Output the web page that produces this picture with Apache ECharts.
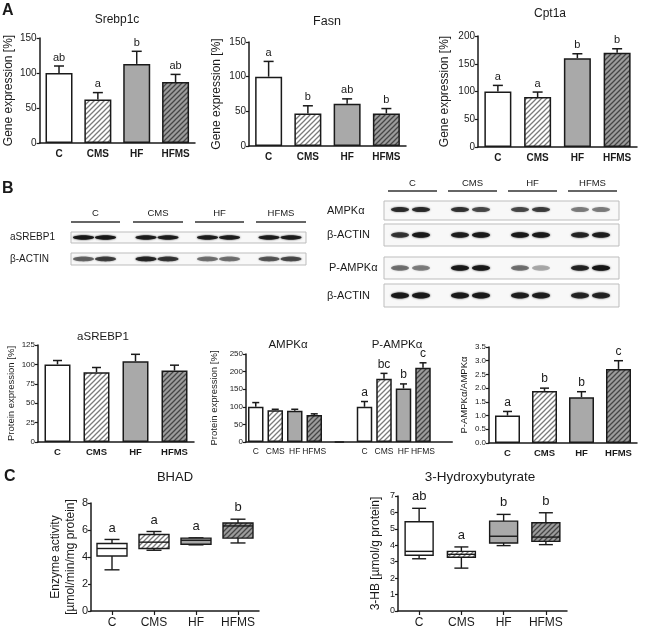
<!DOCTYPE html>
<html><head><meta charset="utf-8">
<script src="https://cdn.jsdelivr.net/npm/echarts@6/dist/echarts.min.js"></script>
<style>html,body{margin:0;padding:0;background:#fff}#c{width:646px;height:629px}</style>
</head><body><div id="c"></div>
<script>
// ---------- DATA ----------
const groups = ['C', 'CMS', 'HF', 'HFMS'];
// Panel A: gene expression [%] (mean, SEM, significance letters)
const srebp1cMean = [100, 62, 113, 87];
const srebp1cSem  = [10, 10, 18, 11];
const srebp1cSig  = ['ab', 'a', 'b', 'ab'];
const fasnMean = [100, 47, 61, 47];
const fasnSem  = [22, 11, 7, 7];
const fasnSig  = ['a', 'b', 'ab', 'b'];
const cpt1aMean = [100, 90, 160, 170];
const cpt1aSem  = [11, 9, 8, 7];
const cpt1aSig  = ['a', 'a', 'b', 'b'];
// Panel B: protein expression
const asrebp1Mean = [100, 90, 104, 92];
const asrebp1Sem  = [5, 6, 9, 7];
const ampkMean = [100, 90, 89, 77];
const ampkSem  = [12, 3, 4, 3];
const pampkMean = [100, 180, 152, 211];
const pampkSem  = [15, 15, 13, 14];
const pampkSig  = ['a', 'bc', 'b', 'c'];
const ratioMean = [1.0, 1.9, 1.67, 2.7];
const ratioSem  = [0.15, 0.1, 0.2, 0.3];
const ratioSig  = ['a', 'b', 'b', 'c'];
// Panel C: box plots [min, Q1, median, Q3, max]
const bhadBox = [[3.05, 4.07, 4.63, 5.0, 5.3], [4.5, 4.63, 5.1, 5.67, 5.89], [4.9, 4.94, 5.24, 5.4, 5.42], [5.04, 5.4, 6.3, 6.52, 6.8]];
const bhadSig = ['a', 'a', 'a', 'b'];
const hbBox = [[3.18, 3.39, 3.63, 5.43, 6.25], [2.61, 3.27, 3.45, 3.63, 3.9], [3.98, 4.14, 4.55, 5.47, 5.88], [4.04, 4.24, 4.5, 5.37, 5.98]];
const hbSig = ['ab', 'a', 'b', 'b'];
// Western blot band darkness per group: [lane1, lane2]
const aSrebp1Bands = [[0.95, 0.95], [0.9, 0.9], [0.9, 0.9], [0.9, 0.9]];
const actinABands  = [[0.55, 0.7], [0.85, 0.75], [0.5, 0.5], [0.6, 0.65]];
const ampkBands    = [[0.8, 0.8], [0.75, 0.65], [0.65, 0.7], [0.45, 0.45]];
const actinBBands  = [[0.75, 0.95], [0.9, 0.95], [0.95, 0.95], [0.85, 0.9]];
const pampkBands   = [[0.5, 0.45], [0.95, 0.95], [0.5, 0.3], [0.85, 1.0]];
const actinCBands  = [[0.95, 0.95], [0.95, 0.95], [0.9, 0.9], [0.85, 0.85]];

// ---------- STYLE ----------
const FONT = '"Liberation Sans", Arial, sans-serif';
const INK = '#1a1a1a';
function hatch(bg, fg) {
  const s = 5, c = document.createElement('canvas');
  c.width = c.height = s;
  const g = c.getContext('2d');
  g.fillStyle = bg; g.fillRect(0, 0, s, s);
  g.strokeStyle = fg; g.lineWidth = 1.3;
  g.beginPath();
  g.moveTo(-1, s + 1); g.lineTo(s + 1, -1);
  g.moveTo(-1, 1); g.lineTo(1, -1);
  g.moveTo(s - 1, s + 1); g.lineTo(s + 1, s - 1);
  g.stroke();
  return { image: c, repeat: 'repeat' };
}
const fills = ['#ffffff', hatch('#ffffff', '#7a7a7a'), '#a9a9a9', hatch('#9c9c9c', '#454545')];

const grid = [], xAxis = [], yAxis = [], series = [], graphic = [];

function addGrid(g) { grid.push(g); return grid.length - 1; }
function addY(gi, min, max, interval, name, gap, o) {
  yAxis.push({
    gridIndex: gi, type: 'value', min, max, interval, show: o.show !== false,
    name, nameLocation: 'middle', nameGap: gap, nameRotate: 90,
    nameTextStyle: { fontSize: o.nameSize, fontFamily: FONT, color: INK, lineHeight: o.nameLH || o.nameSize + 3 },
    axisLine: { show: true, lineStyle: { color: INK, width: 1.5 } },
    axisTick: { show: true, length: 3, lineStyle: { color: INK, width: 1.2 } },
    axisLabel: { fontSize: o.tickSize, color: INK, fontFamily: FONT, margin: 3, formatter: o.fmt },
    splitLine: { show: false }
  });
  return yAxis.length - 1;
}
function addX(gi, data, o) {
  xAxis.push({
    gridIndex: gi, type: 'category', data,
    axisLine: { lineStyle: { color: INK, width: 1.5 } },
    axisTick: { show: !!o.ticks, alignWithLabel: true, length: 4, lineStyle: { color: INK, width: 1.2 } },
    axisLabel: { interval: 0, fontSize: o.size, fontWeight: o.bold ? 'bold' : 'normal', color: INK, fontFamily: FONT, margin: o.margin || 5 }
  });
  return xAxis.length - 1;
}
function addBars(xi, yi, means, sems, sig, o) {
  const off = o.offset || 0;
  const data = [];
  for (let k = 0; k < off; k++) data.push('-');
  means.forEach((v, i) => data.push({ value: v, itemStyle: { color: fills[i] } }));
  series.push({
    type: 'bar', xAxisIndex: xi, yAxisIndex: yi, barWidth: o.barWidth, silent: true,
    itemStyle: { borderColor: INK, borderWidth: 1.5 }, data
  });
  series.push({
    type: 'custom', xAxisIndex: xi, yAxisIndex: yi, clip: false, silent: true, z: 5,
    data: means.map((m, i) => [i + off, m, m + sems[i]]),
    renderItem(params, api) {
      const x = api.value(0);
      const p0 = api.coord([x, api.value(1)]);
      const p1 = api.coord([x, api.value(2)]);
      const cw = o.cap;
      const ch = [
        { type: 'line', shape: { x1: p0[0], y1: p0[1], x2: p1[0], y2: p1[1] }, style: { stroke: INK, lineWidth: 1.5 } },
        { type: 'line', shape: { x1: p1[0] - cw / 2, y1: p1[1], x2: p1[0] + cw / 2, y2: p1[1] }, style: { stroke: INK, lineWidth: 1.5 } }
      ];
      if (sig) ch.push({ type: 'text', style: { text: sig[params.dataIndex], x: p1[0], y: p1[1] - 3, align: 'center', verticalAlign: 'bottom', fontSize: o.sigSize, fontFamily: FONT, fill: INK } });
      return { type: 'group', children: ch };
    }
  });
}
function addBoxes(xi, yi, boxes, sig, o) {
  series.push({
    type: 'custom', xAxisIndex: xi, yAxisIndex: yi, clip: false, silent: true,
    data: boxes.map((b, i) => [i].concat(b)),
    renderItem(params, api) {
      const i = api.value(0);
      const y = k => api.coord([i, api.value(k)])[1];
      const x = api.coord([i, 0])[0];
      const ymin = y(1), yq1 = y(2), ymed = y(3), yq3 = y(4), ymax = y(5);
      const bw = o.boxWidth, cw = bw / 2;
      const st = { stroke: INK, lineWidth: 1.4 };
      return { type: 'group', children: [
        { type: 'line', shape: { x1: x, y1: yq3, x2: x, y2: ymax }, style: st },
        { type: 'line', shape: { x1: x, y1: yq1, x2: x, y2: ymin }, style: st },
        { type: 'line', shape: { x1: x - cw / 2, y1: ymax, x2: x + cw / 2, y2: ymax }, style: st },
        { type: 'line', shape: { x1: x - cw / 2, y1: ymin, x2: x + cw / 2, y2: ymin }, style: st },
        { type: 'rect', shape: { x: x - bw / 2, y: yq3, width: bw, height: yq1 - yq3 }, style: { fill: fills[params.dataIndex], stroke: INK, lineWidth: 1.4 } },
        { type: 'line', shape: { x1: x - bw / 2, y1: ymed, x2: x + bw / 2, y2: ymed }, style: st },
        { type: 'text', style: { text: sig[params.dataIndex], x: x, y: ymax - 5, align: 'center', verticalAlign: 'bottom', fontSize: o.sigSize, fontFamily: FONT, fill: INK } }
      ] };
    }
  });
}
function text(x, y, s, size, o) {
  o = o || {};
  graphic.push({ type: 'text', x, y, silent: true, style: { text: s, fontSize: size, fontFamily: FONT, fontWeight: o.bold ? 'bold' : 'normal', fill: INK, align: o.align || 'center', verticalAlign: o.va || 'middle' } });
}

// ---------- PANEL A ----------
text(2, 3, 'A', 16, { bold: true, align: 'left', va: 'top' });
const aOpt = { nameSize: 12, tickSize: 10 };
const aX = { size: 10, bold: true, margin: 6 };
const aB = { barWidth: 27, cap: 10, sigSize: 11 };
let gi = addGrid({ left: 38, top: 38, width: 157, height: 105 });
addBars(addX(gi, groups, aX), addY(gi, 0, 150, 50, 'Gene expression [%]', 23, aOpt), srebp1cMean, srebp1cSem, srebp1cSig, aB);
text(117, 20, 'Srebp1c', 12);
gi = addGrid({ left: 249, top: 42, width: 157, height: 104 });
addBars(addX(gi, groups, aX), addY(gi, 0, 150, 50, 'Gene expression [%]', 25, aOpt), fasnMean, fasnSem, fasnSig, aB);
text(327, 22, 'Fasn', 12.5);
gi = addGrid({ left: 478, top: 36, width: 159, height: 111 });
addBars(addX(gi, groups, aX), addY(gi, 0, 200, 50, 'Gene expression [%]', 26, aOpt), cpt1aMean, cpt1aSem, cpt1aSig, aB);
text(550, 14, 'Cpt1a', 12);

// ---------- PANEL B: blots ----------
text(2, 181, 'B', 16, { bold: true, align: 'left', va: 'top' });
function blot(cfg) {
  cfg.groupX.forEach(([a, b], i) => {
    text((a + b) / 2, cfg.headerY, groups[i], 9.5);
    graphic.push({ type: 'line', silent: true, shape: { x1: a, y1: cfg.lineY, x2: b, y2: cfg.lineY }, style: { stroke: '#333', lineWidth: 1.4 } });
  });
  cfg.rows.forEach(r => {
    graphic.push({ type: 'rect', silent: true, shape: { x: cfg.boxX0, y: r.y0, width: cfg.boxX1 - cfg.boxX0, height: r.y1 - r.y0 }, style: { fill: '#f8f8f8', stroke: '#bdbdbd', lineWidth: 1 } });
    text(r.lx, (r.y0 + r.y1) / 2, r.label, r.ls, { align: 'left' });
    const cy = (r.y0 + r.y1) / 2 + (r.dy || 0);
    r.bands.forEach((pair, g) => {
      const [a, b] = cfg.groupX[g];
      const c = (a + b) / 2 + cfg.shift;
      pair.forEach((d, li) => {
        const cx = c + (li ? cfg.laneOff : -cfg.laneOff);
        const col = `rgba(22,22,22,${d})`;
        graphic.push({ type: 'ellipse', silent: true, shape: { cx, cy, rx: cfg.bandW / 2, ry: r.ry }, style: { fill: col, shadowBlur: 2, shadowColor: col } });
      });
    });
  });
}
blot({
  groupX: [[71, 120], [133, 183], [195, 244], [256, 306]], headerY: 213, lineY: 222, boxX0: 71, boxX1: 306,
  shift: -1, laneOff: 11, bandW: 21,
  rows: [
    { label: 'aSREBP1', lx: 10, ls: 10, y0: 232, y1: 243, ry: 2.2, bands: aSrebp1Bands },
    { label: 'β-ACTIN', lx: 10, ls: 10, y0: 253, y1: 265, ry: 2.4, bands: actinABands }
  ]
});
blot({
  groupX: [[388, 437], [448, 497], [508, 557], [568, 617]], headerY: 183, lineY: 191, boxX0: 384, boxX1: 619,
  shift: -2, laneOff: 10.5, bandW: 18,
  rows: [
    { label: 'AMPKα', lx: 327, ls: 11, y0: 201, y1: 220, ry: 2.6, dy: -1, bands: ampkBands },
    { label: 'β-ACTIN', lx: 327, ls: 11, y0: 224, y1: 246, ry: 2.8, bands: actinBBands },
    { label: 'P-AMPKα', lx: 329, ls: 11, y0: 257, y1: 279, ry: 2.8, bands: pampkBands },
    { label: 'β-ACTIN', lx: 327, ls: 11, y0: 284, y1: 307, ry: 3, bands: actinCBands }
  ]
});

// ---------- PANEL B: bar charts ----------
const bOpt = { nameSize: 9.5, tickSize: 8 };
const bX = { size: 9.5, bold: true, margin: 5 };
gi = addGrid({ left: 38, top: 345, width: 156, height: 97 });
addBars(addX(gi, groups, bX), addY(gi, 0, 125, 25, 'Protein expression [%]', 20, bOpt), asrebp1Mean, asrebp1Sem, null, { barWidth: 26, cap: 9, sigSize: 11 });
text(103, 337, 'aSREBP1', 11.5);

const ampkX = { size: 8.5, bold: false, margin: 5 };
gi = addGrid({ left: 246, top: 354, width: 97.5, height: 88 });
addBars(addX(gi, groups.concat(['']), ampkX), addY(gi, 0, 250, 50, 'Protein expression [%]', 25, bOpt), ampkMean, ampkSem, null, { barWidth: 15.5, cap: 7, sigSize: 12 });
gi = addGrid({ left: 335.25, top: 354, width: 117, height: 88 });
addBars(addX(gi, [''].concat(groups, ['']), ampkX), addY(gi, 0, 250, 50, '', 0, Object.assign({ show: false }, bOpt)), pampkMean, pampkSem, pampkSig, { barWidth: 15.5, cap: 7, sigSize: 12, offset: 1 });
text(288, 345, 'AMPKα', 11.5);
text(397, 345, 'P-AMPKα', 11.5);

gi = addGrid({ left: 489, top: 347, width: 148, height: 96 });
addBars(addX(gi, groups, bX), addY(gi, 0, 3.5, 0.5, 'P-AMPKα/AMPKα', 17, Object.assign({ fmt: v => v.toFixed(1) }, bOpt)), ratioMean, ratioSem, ratioSig, { barWidth: 25, cap: 9, sigSize: 12 });

// ---------- PANEL C ----------
text(4, 469, 'C', 16, { bold: true, align: 'left', va: 'top' });
const cX = { size: 12, ticks: true, margin: 6 };
gi = addGrid({ left: 91, top: 503, width: 168, height: 109 });
addBoxes(addX(gi, groups, cX), addY(gi, 0, 8, 2, 'Enzyme activity\n[µmol/min/mg protein]', 12, { nameSize: 12, nameLH: 15, tickSize: 11 }), bhadBox, bhadSig, { boxWidth: 30, sigSize: 13 });
text(175, 477, 'BHAD', 13);
gi = addGrid({ left: 398, top: 496, width: 169, height: 115 });
addBoxes(addX(gi, groups, cX), addY(gi, 0, 7, 1, '3-HB [µmol/g protein]', 15, { nameSize: 12, tickSize: 9 }), hbBox, hbSig, { boxWidth: 28, sigSize: 13 });
text(480, 477, '3-Hydroxybutyrate', 13.5);

const chart = echarts.init(document.getElementById('c'), null, { renderer: 'canvas' });
chart.setOption({ animation: false, backgroundColor: '#ffffff', grid, xAxis, yAxis, series, graphic });
</script></body></html>
